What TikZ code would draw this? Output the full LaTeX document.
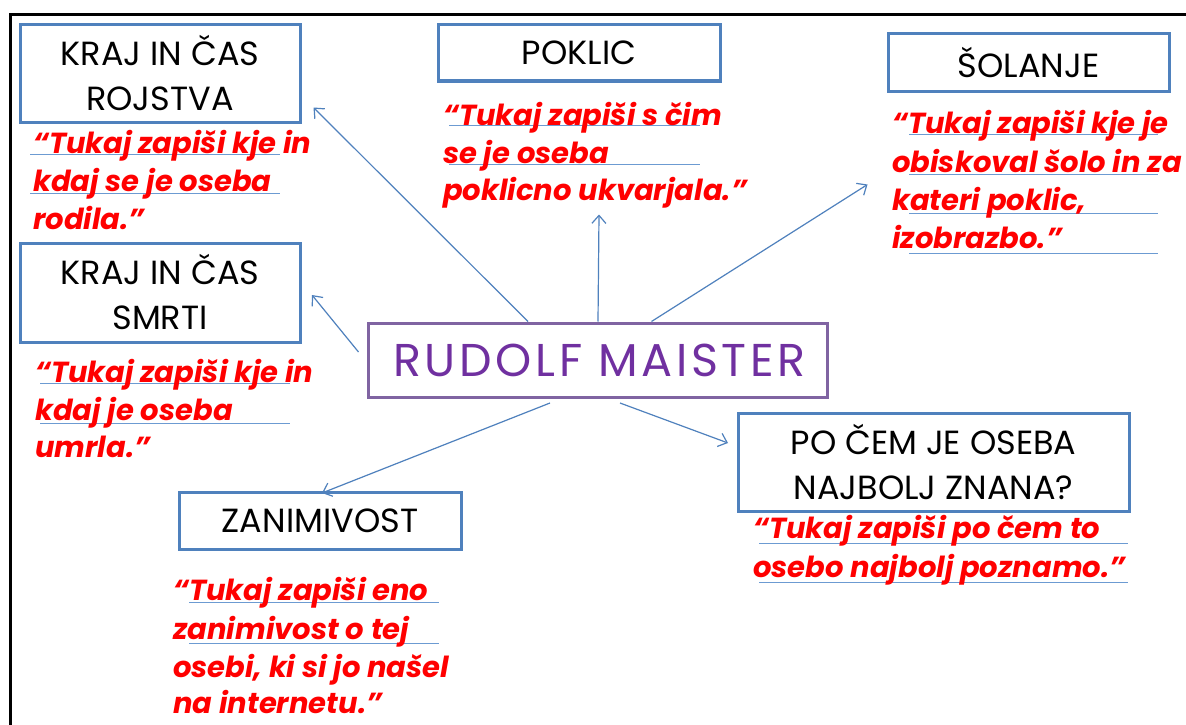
\documentclass[tikz,border=0pt]{standalone}
\usepackage{fontspec}
\setmainfont{Poppins}
\usetikzlibrary{arrows.meta,calc}
\definecolor{boxblue}{HTML}{4F81BD}
\definecolor{lineblue}{HTML}{6C9BD2}
\definecolor{boxpurple}{HTML}{8064A2}
\definecolor{txtpurple}{HTML}{7030A0}
\tikzset{
  topic/.style={draw=boxblue, line width=3pt, fill=white, align=center, inner sep=0pt,
    font=\fontsize{33.5}{45}\selectfont, text=black},
  mainbox/.style={draw=boxpurple, line width=3pt, fill=white, inner sep=0pt,
    font=\fontsize{46}{48}\selectfont\addfontfeature{LetterSpace=8}, text=txtpurple},
  hint/.style={anchor=base west, inner sep=0pt, text=red,
    font=\fontsize{29}{38}\selectfont\bfseries\itshape},
  uline/.style={draw=lineblue, line width=1pt},
  arr/.style={draw=boxblue, line width=1.2pt, -{Straight Barb[length=8pt,width=14pt]}},
  frame/.style={draw=black, line width=3pt}
}
\begin{document}
\begin{tikzpicture}[x=1pt,y=-1pt]
\clip (0,0) rectangle (1186,725);
\fill[white] (0,0) rectangle (1186,725);
\draw[frame] (10,740) |- (1200,15);

% topic boxes
\node[topic, minimum width=280pt, minimum height=97pt] (rojstva) at (160,73.5) {KRAJ IN ČAS\\ROJSTVA};
\node[topic, minimum width=282pt, minimum height=56pt] (poklic) at (579,53) {POKLIC};
\node[topic, minimum width=281pt, minimum height=57pt] (solanje) at (1028.5,62.5) {ŠOLANJE};
\node[topic, minimum width=280pt, minimum height=99pt] (smrti) at (160,292.5) {KRAJ IN ČAS\\SMRTI};
\node[topic, minimum width=391pt, minimum height=98pt] (znana) at (933.5,462) {PO ČEM JE OSEBA\\NAJBOLJ ZNANA?};
\node[topic, minimum width=282pt, minimum height=57pt] (zanim) at (320,520.5) {ZANIMIVOST};
\node[mainbox, minimum width=459pt, minimum height=74pt] (main) at (597.5,360) {\hspace{4pt}RUDOLF MAISTER};

% connectors
\draw[arr] ($(main.north)+(-69.5,0)$) -- ($(rojstva.south east)+(12,-16)$);
\draw[arr] ($(main.north)+(0.5,0)$) -- ($(poklic.south)+(20,132)$);
\draw[arr] ($(main.north)+(54,0)$) -- ($(solanje.west)+(-19,122)$);
\draw[arr] ($(main.west)+(-8,-8)$) -- ($(smrti.east)+(10.5,2.5)$);
\draw[arr] ($(main.south)+(22.5,4.5)$) -- ($(znana.west)+(-8.5,-19)$);
\draw[arr] ($(main.south)+(-47.5,4.5)$) -- ($(zanim.north)+(2,2.5)$);

% writing lines
\draw[uline] (30,154.5) -- (280,154.5) (30,193) -- (280,193);
\draw[uline] (449,125) -- (700,125) (449,164) -- (700,164);
\draw[uline] (909,134) -- (1158,134) (909,174) -- (1158,174) (909,213) -- (1158,213) (909,253) -- (1158,253);
\draw[uline] (40,383) -- (290,383) (40,423) -- (290,423);
\draw[uline] (759,543) -- (1128,543) (759,582) -- (1128,582);
\draw[uline] (189,602) -- (439,602) (189,643) -- (439,643);

% hint texts
\node[hint] (h1a) at (33,153) {“Tukaj zapiši kje in};
\node[hint] (h1b) at (33,191) {kdaj se je oseba};
\node[hint] (h1c) at (33,229) {rodila.”};

\node[hint] (h2a) at (443,125) {“Tukaj zapiši s čim};
\node[hint] (h2b) at (443,163) {se je oseba};
\node[hint] (h2c) at (443,200) {poklicno ukvarjala.”};

\node[hint] (h3a) at (892,133) {“Tukaj zapiši kje je};
\node[hint] (h3b) at (892,172) {obiskoval šolo in za};
\node[hint] (h3c) at (892,210) {kateri poklic,};
\node[hint] (h3d) at (892,248) {izobrazbo.”};

\node[hint] (h4a) at (35,382) {“Tukaj zapiši kje in};
\node[hint] (h4b) at (35,420) {kdaj je oseba};
\node[hint] (h4c) at (35,457) {umrla.”};

\node[hint] (h5a) at (753,538) {“Tukaj zapiši po čem to};
\node[hint] (h5b) at (753,577) {osebo najbolj poznamo.”};

\node[hint] (h6a) at (173,600) {“Tukaj zapiši eno};
\node[hint] (h6b) at (173,639) {zanimivost o tej};
\node[hint] (h6c) at (173,677) {osebi, ki si jo našel};
\node[hint] (h6d) at (173,713) {na internetu.”};
\end{tikzpicture}
\end{document}
